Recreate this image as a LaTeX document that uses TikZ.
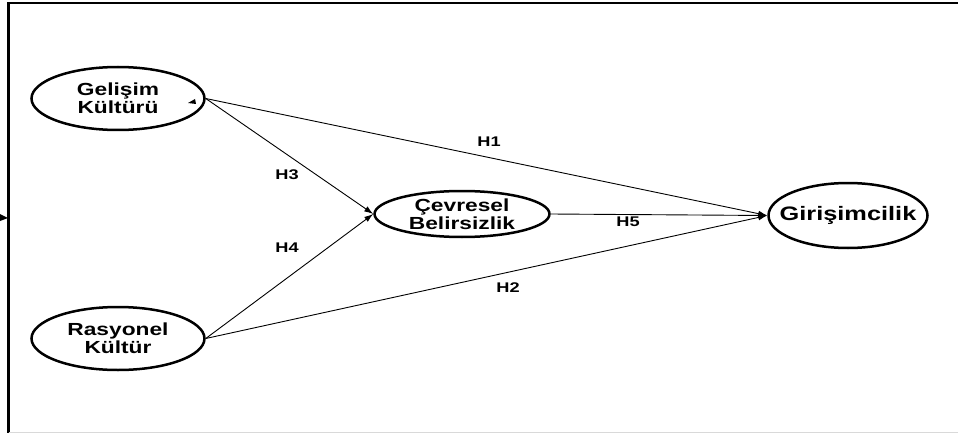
\documentclass[tikz,border=0pt]{standalone}
\usepackage{fontspec}
\setmainfont{Liberation Sans}[FakeStretch=1.3]
\usepackage{tikz}
\usetikzlibrary{arrows.meta,shapes.geometric}

\begin{document}
\begin{tikzpicture}[x=1pt,y=-1pt,
  construct/.style={draw, ellipse, line width=2.5pt, inner sep=0pt},
  cname/.style={font=\bfseries\fontsize{17.5}{18}\selectfont, align=center, inner sep=0pt},
  hyp/.style={-{Latex[length=9pt,width=6pt]}, line width=0.9pt},
  hlabel/.style={font=\bfseries\fontsize{14}{15}\selectfont}]
\useasboundingbox (0,0) rectangle (958,433);
% frame
\draw[line width=2.5pt] (958,3) -- (8.5,3) -- (8.5,433);
\draw[black!15, line width=1pt] (8.5,432) -- (958,432);
\fill (0,214) -- (8,218) -- (0,221) -- cycle;
% constructs
\node[construct, minimum width=173pt, minimum height=63pt,
  label={[cname]center:{Gelişim\\Kültürü}}] (gelisim) at (118,98.5) {};
\node[construct, minimum width=173pt, minimum height=63pt,
  label={[cname]center:{Rasyonel\\Kültür}}] (rasyonel) at (118,338.5) {};
\node[construct, minimum width=175pt, minimum height=46pt,
  label={[cname]center:{Çevresel\\Belirsizlik}}] (cevresel) at (462,214) {};
\node[construct, minimum width=159pt, minimum height=65pt,
  label={[cname, font=\bfseries\fontsize{19.5}{20}\selectfont]center:Girişimcilik}] (girisim) at (848,215.5) {};
\fill (188,103) -- (195,99) -- (196,104) -- cycle;
% hypotheses
\draw[hyp] (gelisim.east) -- (girisim.west);
\draw[hyp] (gelisim.east) -- (cevresel.west);
\draw[hyp] (rasyonel.east) -- (cevresel.west);
\draw[hyp] (rasyonel.east) -- (girisim.west);
\draw[hyp] (cevresel.east) -- (girisim.west);
\node[hlabel] (h1) at (489,142) {H1};
\node[hlabel] (h2) at (508,288) {H2};
\node[hlabel] (h3) at (287,175) {H3};
\node[hlabel] (h4) at (287,248) {H4};
\node[hlabel] (h5) at (628,222) {H5};
\end{tikzpicture}
\end{document}
